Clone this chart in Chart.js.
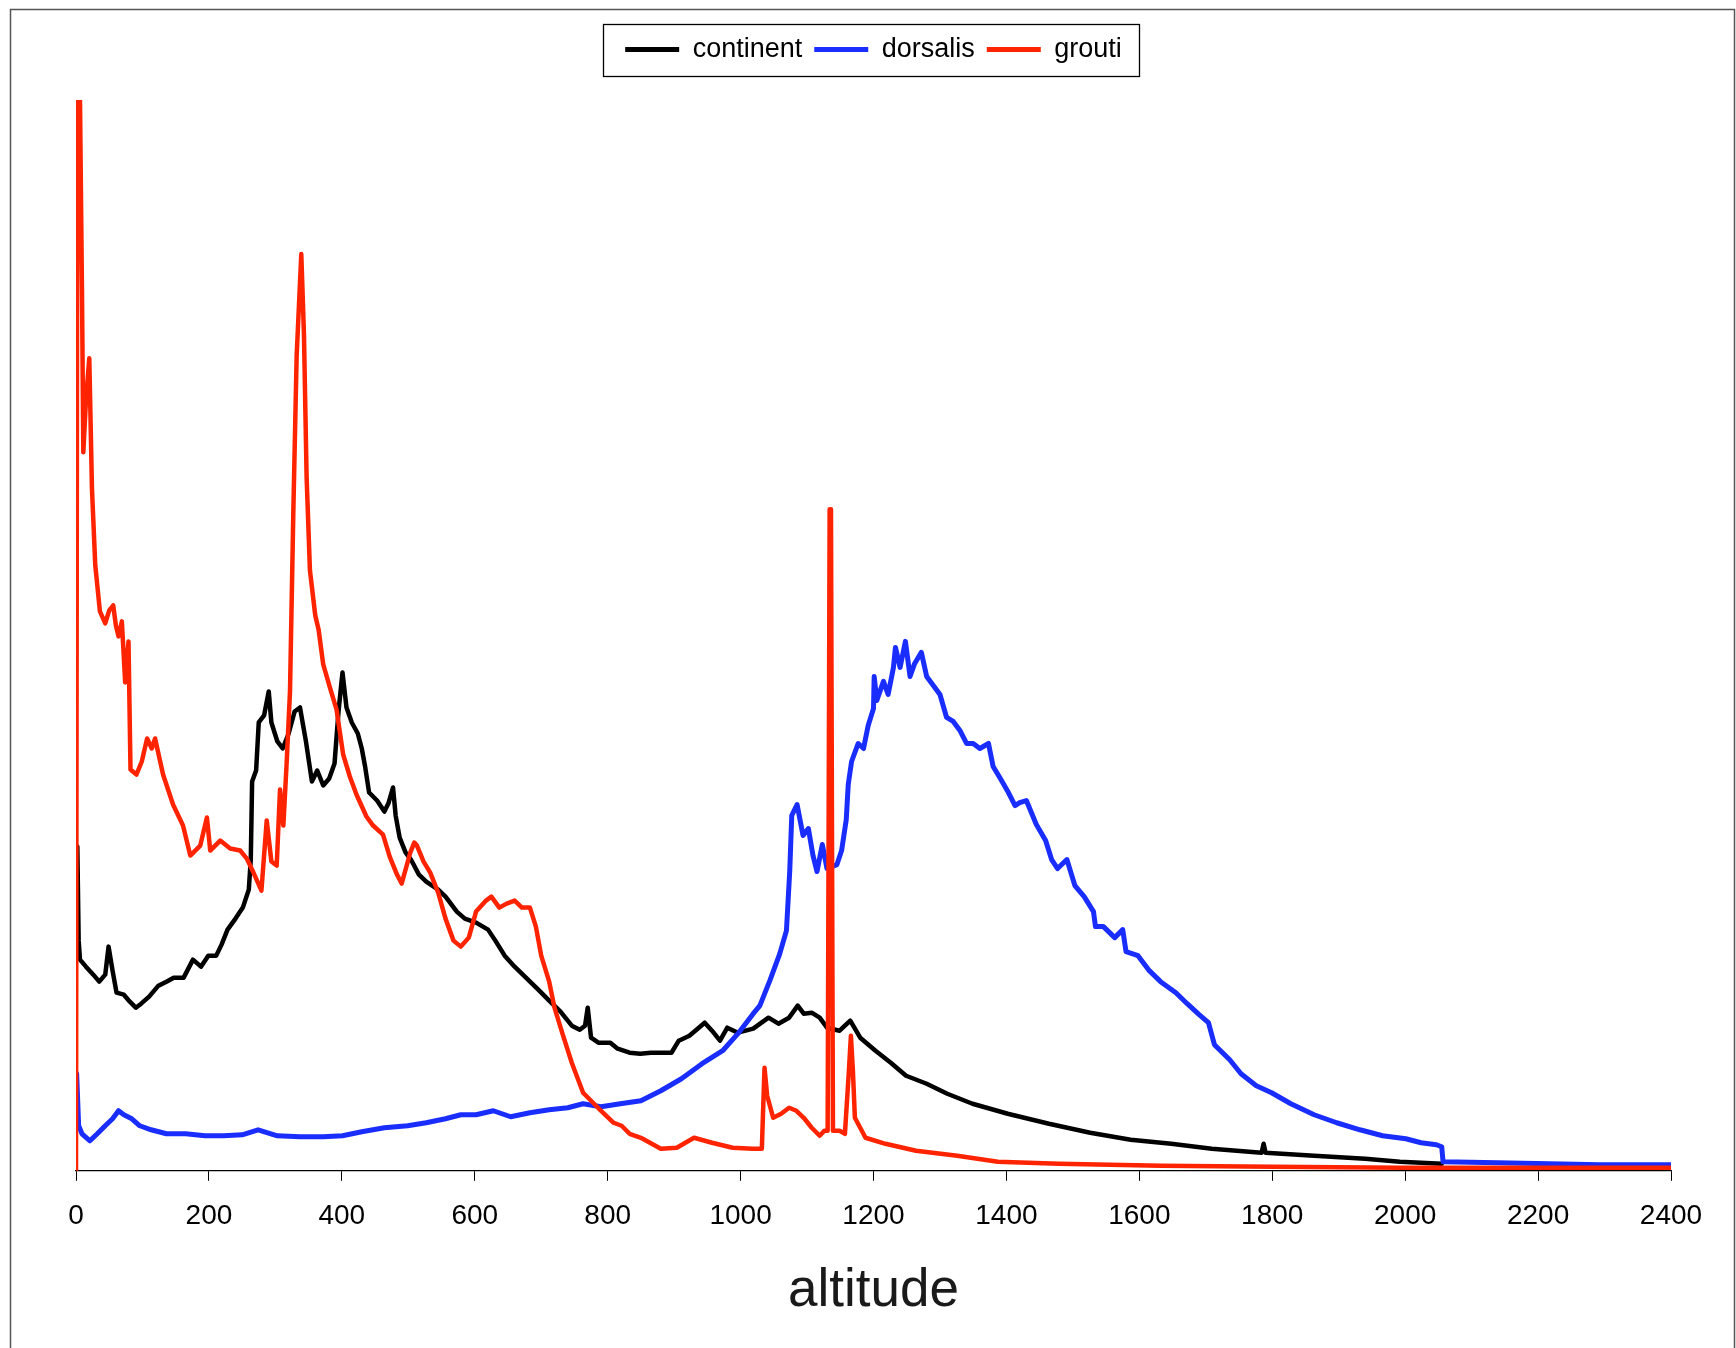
<!DOCTYPE html>
<html>
<head>
<meta charset="utf-8">
<script src="https://cdn.jsdelivr.net/npm/chart.js@4/dist/chart.umd.min.js"></script>
<style>
html,body{margin:0;padding:0;background:#fff;}
#wrap{width:1736px;height:1348px;position:relative;}
</style>
</head>
<body>
<div id="wrap"><canvas id="c" width="1736" height="1348"></canvas></div>
<script>
// ---- data (altitude, relative frequency in arbitrary units) ----
const seriesNames = ['continent', 'dorsalis', 'grouti'];
const xTicks = [0, 200, 400, 600, 800, 1000, 1200, 1400, 1600, 1800, 2000, 2200, 2400];

const continentAlt = [2,4,6,15,26,35,44,49,55,61,72,81,90,98,110,124,136,147,162,176,188,199,211,219,228,240,251,260,263,265,271,275,283,290,294,303,311,320,329,337,346,355,363,372,381,389,395,401,407,415,424,430,435,441,453,464,470,477,481,487,496,504,516,527,545,556,573,585,602,620,631,645,660,677,694,712,729,746,758,766,770,775,786,804,815,833,849,865,896,907,923,946,957,969,980,996,1019,1042,1057,1073,1086,1095,1107,1119,1130,1149,1165,1180,1203,1226,1249,1280,1311,1349,1402,1464,1526,1587,1648,1709,1784,1787,1790,1863,1940,1992,2055];
const continentVal = [324,230,211,204,196,189,196,224,200,178,176,169,163,167,174,185,189,193,193,211,204,215,215,226,241,252,263,281,311,389,400,448,455,479,448,429,422,437,459,463,429,389,400,385,392,407,459,498,463,448,437,422,404,378,370,359,367,383,355,333,318,311,296,289,281,274,259,252,248,241,230,215,204,193,182,170,159,145,141,145,163,133,128,128,122,118,117,118,118,130,135,148,140,130,143,138,142,153,147,153,165,157,158,153,143,140,150,133,120,108,95,87,77,67,57,47,38,31,27,22,18,27,18,15,12,9,7];

const dorsalisAlt = [1,4,9,21,32,44,55,64,72,84,96,113,136,165,194,222,250,274,303,337,372,401,430,464,499,527,556,579,602,628,654,683,712,740,763,790,819,850,880,911,942,973,996,1019,1029,1044,1059,1069,1074,1077,1085,1094,1102,1109,1115,1123,1130,1145,1152,1159,1162,1167,1177,1185,1192,1200,1201,1205,1215,1222,1230,1233,1240,1248,1255,1262,1272,1280,1290,1300,1310,1320,1330,1340,1350,1360,1373,1380,1390,1403,1413,1420,1430,1445,1459,1468,1477,1491,1503,1517,1531,1534,1546,1563,1575,1580,1598,1615,1632,1655,1672,1690,1704,1713,1736,1753,1776,1799,1828,1863,1897,1932,1966,2001,2024,2047,2055,2057,2139,2293,2400];
const dorsalisVal = [97,45,37,30,37,45,52,60,56,52,45,41,37,37,35,35,36,41,35,34,34,35,39,43,45,48,52,56,56,60,54,58,61,63,67,64,67,70,80,92,107,120,137,157,165,190,217,240,300,355,366,335,342,315,299,326,302,306,320,351,386,409,427,422,445,462,494,470,489,476,503,523,503,529,494,507,518,494,485,476,453,449,440,427,427,422,427,404,393,378,365,368,370,346,330,311,302,311,285,274,259,244,244,233,241,219,215,200,189,178,167,156,148,126,111,97,85,78,67,56,48,41,35,32,28,26,24,9,8,6,6];

const groutiAlt = [0,2,6,9,11,15,20,24,29,36,44,50,56,60,64,69,74,79,82,91,99,107,114,119,131,146,161,172,187,197,202,217,232,247,257,267,279,287,294,302,307,312,317,322,327,332,339,343,347,352,360,365,372,382,392,402,412,422,437,447,462,472,483,490,503,509,513,523,533,545,556,568,579,591,602,617,625,637,648,660,671,683,692,700,712,720,732,746,763,787,809,821,833,850,880,904,930,957,988,1019,1032,1036,1040,1049,1061,1073,1084,1095,1107,1119,1126,1131,1134,1136,1139,1149,1157,1163,1166,1169,1172,1188,1218,1264,1326,1387,1479,1633,1800,1992,2200,2400];
const groutiVal = [0,1070,1070,880,718,770,812,682,605,559,547,560,565,545,534,549,488,529,401,396,409,432,422,432,396,366,345,315,325,353,320,330,322,320,312,298,280,350,309,305,381,345,408,479,658,814,916,836,693,600,555,541,506,483,461,416,394,376,354,345,336,314,296,287,318,328,325,309,298,278,252,230,224,233,259,270,274,263,267,270,263,263,244,215,189,163,137,108,78,62,48,45,37,33,22,23,33,28,23,22,22,103,75,53,57,63,60,53,43,35,40,40,661,661,40,40,37,100,135,100,53,33,27,20,15,9,7,5,4,3,3,3];

const xTitle = 'altitude';

// ---- helpers ----
function pairs(xs, ys) {
  const n = Math.min(xs.length, ys.length);
  const out = [];
  for (let i = 0; i < n; i++) out.push({x: xs[i], y: ys[i]});
  return out;
}

const FONT = "'Liberation Sans', Arial, Helvetica, sans-serif";
const COLORS = ['#000000', '#1a2dff', '#ff2300'];

const framePlugin = {
  id: 'frame',
  beforeDraw(chart) {
    const c = chart.ctx;
    c.save();
    c.fillStyle = '#ffffff';
    c.fillRect(0, 0, chart.width, chart.height);
    c.strokeStyle = '#555555';
    c.lineWidth = 1.5;
    c.strokeRect(10.5, 9.5, chart.width - 12, chart.height + 10);
    c.restore();
  }
};

const legendBoxPlugin = {
  id: 'legendBox',
  afterInit(chart) {
    const lg = chart.legend;
    if (lg) {
      const orig = lg.fit.bind(lg);
      lg.fit = function () { orig(); this.height = 76; };
    }
  },
  afterDraw(chart) {
    const lg = chart.legend;
    if (!lg || !lg.legendHitBoxes || !lg.legendHitBoxes.length) return;
    const hb = lg.legendHitBoxes;
    let minL = Infinity, maxR = -Infinity;
    hb.forEach(h => { minL = Math.min(minL, h.left); maxR = Math.max(maxR, h.left + h.width); });
    const x1 = Math.round(minL - 22) + 0.5;
    const x2 = Math.round(maxR + 17) + 0.5;
    const c = chart.ctx;
    c.save();
    c.strokeStyle = '#000';
    c.lineWidth = 1.3;
    c.strokeRect(x1, 24.5, x2 - x1, 52);
    c.restore();
  }
};

const ctx = document.getElementById('c').getContext('2d');
new Chart(ctx, {
  type: 'line',
  data: {
    datasets: [
      {label: seriesNames[0], data: pairs(continentAlt, continentVal), borderColor: COLORS[0], backgroundColor: COLORS[0], borderWidth: 4.5, order: 3},
      {label: seriesNames[1], data: pairs(dorsalisAlt, dorsalisVal), borderColor: COLORS[1], backgroundColor: COLORS[1], borderWidth: 5, order: 2},
      {label: seriesNames[2], data: pairs(groutiAlt, groutiVal), borderColor: COLORS[2], backgroundColor: COLORS[2], borderWidth: 4.5, order: 1}
    ]
  },
  options: {
    responsive: false,
    animation: false,
    devicePixelRatio: 1,
    layout: {padding: {left: 76, right: 65, top: 24, bottom: 25}},
    elements: {
      point: {radius: 0, hoverRadius: 0},
      line: {tension: 0, borderJoinStyle: 'round', borderCapStyle: 'round', fill: false}
    },
    scales: {
      x: {
        type: 'linear',
        min: xTicks[0],
        max: xTicks[xTicks.length - 1],
        afterBuildTicks(scale) { scale.ticks = xTicks.map(v => ({value: v})); },
        ticks: {
          font: {family: FONT, size: 28}, color: '#000', padding: 19, maxRotation: 0, autoSkip: false,
          callback: (v) => String(v)
        },
        grid: {display: true, drawOnChartArea: false, drawTicks: true, tickLength: 10, color: '#000', lineWidth: 1},
        border: {display: true, color: '#000', width: 1.2},
        title: {display: true, text: xTitle, font: {family: FONT, size: 53}, color: '#1a1a1a', padding: {top: 7, bottom: 0}}
      },
      y: {display: false, min: 0, max: 1070}
    },
    plugins: {
      legend: {
        display: true,
        position: 'top',
        labels: {
          boxWidth: 54,
          boxHeight: 5,
          padding: 12,
          color: '#000',
          font: {family: FONT, size: 27},
          sort: (a, b) => a.datasetIndex - b.datasetIndex,
          generateLabels(chart) {
            const items = Chart.defaults.plugins.legend.labels.generateLabels(chart);
            items.forEach(it => { it.lineWidth = 0; });
            items.sort((a, b) => a.datasetIndex - b.datasetIndex);
            return items;
          }
        }
      },
      tooltip: {enabled: false}
    }
  },
  plugins: [framePlugin, legendBoxPlugin]
});
</script>
</body>
</html>
